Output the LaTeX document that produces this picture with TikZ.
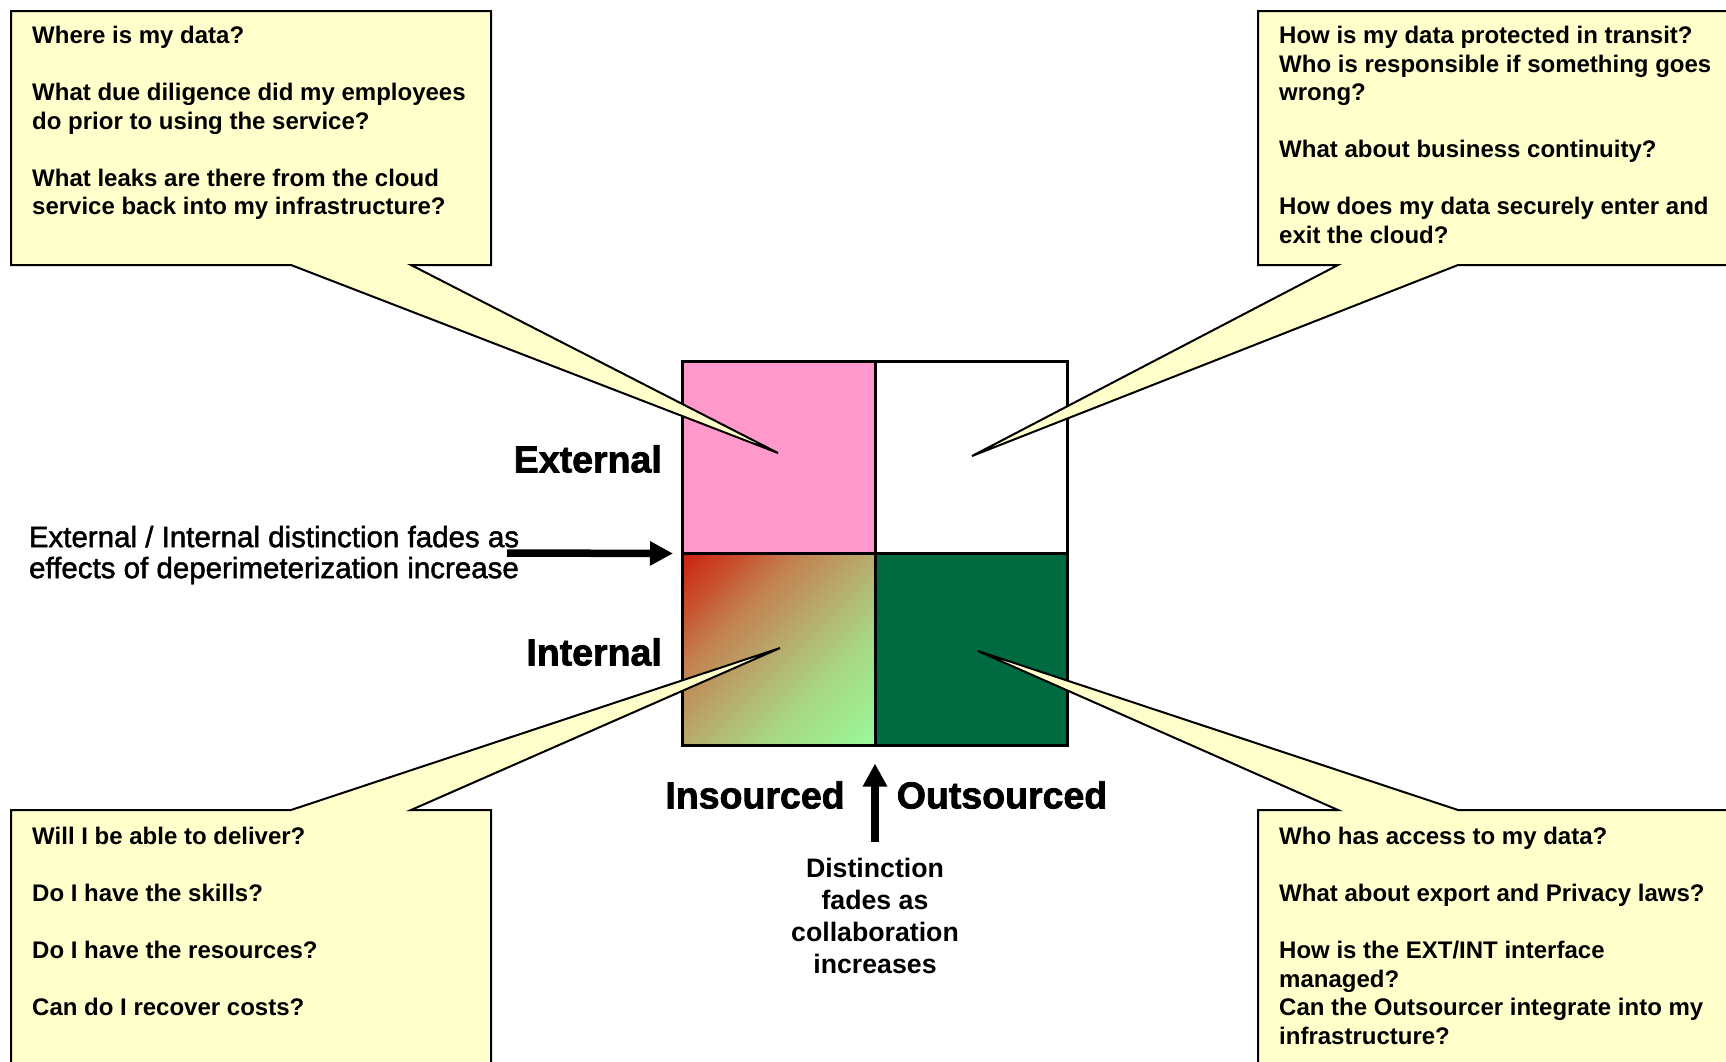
\documentclass[tikz,border=0pt]{standalone}
\usepackage{fontspec}
\setmainfont{Liberation Sans}
\newfontfamily\labelfont[BoldFeatures={FakeBold=2}]{Liberation Sans}
\newfontfamily\fadefont[FakeBold=1.6]{Liberation Sans}
\usetikzlibrary{arrows.meta,positioning}
\definecolor{notepad}{RGB}{255,255,204}
\definecolor{pinkcell}{RGB}{255,153,204}
\definecolor{greencell}{RGB}{0,106,64}
\definecolor{gradred}{RGB}{204,32,17}
\definecolor{fadeR}{RGB}{200,78,44}
\definecolor{fadeA}{RGB}{195,128,80}
\definecolor{fadeB}{RGB}{183,172,108}
\definecolor{fadeC}{RGB}{168,214,130}
\definecolor{gradgreen}{RGB}{153,250,153}
\pgfdeclareverticalshading{cellfade}{100bp}{color(0bp)=(gradgreen); color(14.6bp)=(gradgreen);
  color(35.8bp)=(fadeC); color(50bp)=(fadeB); color(64.2bp)=(fadeA); color(74.8bp)=(fadeR);
  color(85.4bp)=(gradred); color(100bp)=(gradred)}
\begin{document}
\begin{tikzpicture}[x=1pt, y=-1pt,
  cell/.style={minimum width=193pt, minimum height=192pt, inner sep=0pt, outer sep=0pt},
  note/.style={fill=notepad, draw=black, line width=2pt},
  notetext/.style={anchor=north west, inner sep=0pt, align=left, font=\fontsize{24}{28.5}\selectfont\bfseries},
  axislabel/.style={inner sep=0pt, font=\labelfont\fontsize{37.5}{40}\selectfont\bfseries},
  bigarrow/.style={-{Triangle[length=23pt, width=23pt]}, line width=7.5pt}]
\clip (0,0) rectangle (1726,1061);
\fill[white] (0,0) rectangle (1726,1061);

% the four cells
\node (ext_in) [cell, fill=pinkcell] at (778.5,457.5) {};
\node (ext_out) [cell, fill=white] at (971,457.5) {};
\node (int_in) [cell, shading=cellfade, shading angle=45] at (778.5,649.5) {};
\node (int_out) [cell, fill=greencell] at (971,649.5) {};
\draw[line width=3pt] (ext_in.north west) rectangle (int_out.south east);
\draw[line width=3pt] (ext_in.north east) -- (int_in.south east);
\draw[line width=3pt] (ext_in.south west) -- (ext_out.south east);

% callouts
\coordinate (tip_where) at (778,453);
\coordinate (tip_transit) at (972,456);
\coordinate (tip_deliver) at (780,648);
\coordinate (tip_access) at (978,651);

\draw[note] (11,11) -- (491,11) -- (491,265) -- (411,265) -- (tip_where) -- (291,265) -- (11,265) -- cycle;
\draw[note] (1258,11) -- (1740,11) -- (1740,265) -- (1458,265) -- (tip_transit) -- (1338,265) -- (1258,265) -- cycle;
\draw[note] (11,1075) -- (11,810) -- (291,810) -- (tip_deliver) -- (411,810) -- (491,810) -- (491,1075) -- cycle;
\draw[note] (1258,1075) -- (1258,810) -- (1338,810) -- (tip_access) -- (1458,810) -- (1740,810) -- (1740,1075) -- cycle;

\node (where) [notetext] at (32,26) {Where is my data?\\[28.5pt]
  What due diligence did my employees\\do prior to using the service?\\[28.5pt]
  What leaks are there from the cloud\\service back into my infrastructure?};
\node (transit) [notetext] at (1279,26) {How is my data protected in transit?\\
  Who is responsible if something goes\\wrong?\\[28.5pt]
  What about business continuity?\\[28.5pt]
  How does my data securely enter and\\exit the cloud?};
\node (deliver) [notetext] at (32,827) {Will I be able to deliver?\\[28.5pt]
  Do I have the skills?\\[28.5pt]
  Do I have the resources?\\[28.5pt]
  Can do I recover costs?};
\node (access) [notetext] at (1279,827) {Who has access to my data?\\[28.5pt]
  What about export and Privacy laws?\\[28.5pt]
  How is the EXT/INT interface\\managed?\\
  Can the Outsourcer integrate into my\\infrastructure?};

% axis labels
\node (external) [axislabel, anchor=east] at (662,459) {External};
\node (internal) [axislabel, anchor=east] at (662,652) {Internal};
\node (insourced) [axislabel] at (755,795) {Insourced};
\node (outsourced) [axislabel] at (1002,795) {Outsourced};

% fading arrows
\node (fade_ext) [inner sep=0pt, align=center, font=\fadefont\fontsize{29.5}{31}\selectfont] at (274,555)
  {External / Internal distinction fades as\\effects of deperimeterization increase};
\coordinate (fade_start) at (507,553);
\draw[bigarrow, shorten >=9pt] (fade_start) -- (ext_in.south west);

\node (collab) [inner sep=0pt, align=center, font=\fontsize{26.7}{32}\selectfont\bfseries] at (875,916)
  {Distinction\\fades as\\collaboration\\increases};
\coordinate (collab_start) at (875,842);
\draw[bigarrow, line width=8.5pt, shorten >=18pt] (collab_start) -- (int_in.south east);
\end{tikzpicture}
\end{document}
